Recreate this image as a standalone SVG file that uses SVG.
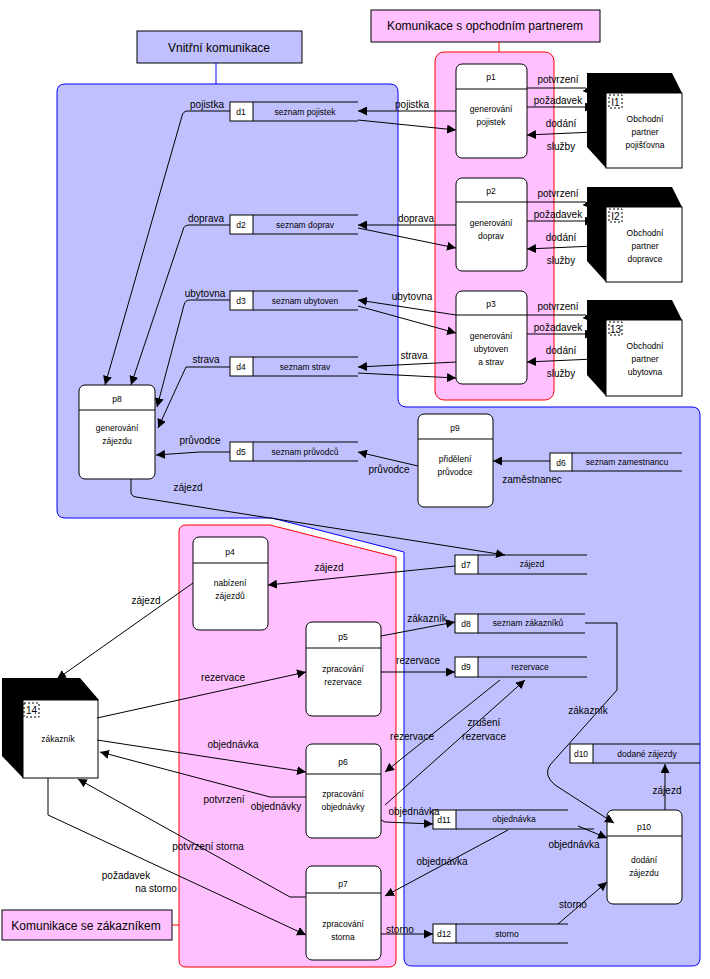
<svg xmlns="http://www.w3.org/2000/svg" width="710" height="979" viewBox="0 0 710 979">
<style>
text{font-family:"Liberation Sans",Arial,sans-serif;fill:#000}
.n{font-size:8.5px;text-anchor:middle}
.i{font-size:10px;text-anchor:middle}
.l{font-size:10px;text-anchor:middle}
.t{font-size:12px;text-anchor:middle}
.p{fill:#fff;stroke:#000;stroke-width:1}
.c path,.c line,.c polyline{fill:none;stroke:#000;stroke-width:1}
.s line{stroke:#000}
</style>
<defs>
<marker id="a" viewBox="0 0 10 10" refX="10" refY="5" markerWidth="9" markerHeight="9" orient="auto" markerUnits="userSpaceOnUse"><path d="M0,0L10,5L0,10z" fill="#000"/></marker>
</defs>
<rect width="710" height="979" fill="#fff"/>
<g id="regions">
<path d="M65,84H390Q398,84 398,92V398Q398,407 407,407H692Q700,407 700,415V958Q700,966 692,966H412Q404,966 404,958V552L272,518H65Q57,518 57,510V92Q57,84 65,84Z" fill="#c0c0ff" stroke="#0000ff"/>
<rect x="435" y="52" width="119" height="348" rx="9" fill="#ffc0ff" stroke="#ff0000"/>
<path d="M186,525H270L396,557V960Q396,967 389,967H186Q179,967 179,960V532Q179,525 186,525Z" fill="#ffc0ff" stroke="#ff0000"/>
</g>
<g id="labels">
<rect x="137" y="31" width="165" height="32" fill="#c0c0ff" stroke="#000"/>
<text class="t" x="219" y="52">Vnitřní komunikace</text>
<line x1="216" y1="63" x2="216" y2="84" stroke="#0000ff"/>
<rect x="371" y="10" width="229" height="32" fill="#ffc0ff" stroke="#000"/>
<text class="t" x="485" y="30">Komunikace s opchodním partnerem</text>
<line x1="499" y1="42" x2="499" y2="52" stroke="#ff0000"/>
<rect x="2" y="910" width="170" height="30" fill="#ffc0ff" stroke="#000"/>
<text class="t" x="86" y="930">Komunikace se zákazníkem</text>
<line x1="172" y1="925" x2="179" y2="925" stroke="#ff0000"/>
</g>
<g id="processes">
<g id="p1"><rect class="p" x="456" y="64" width="71" height="94" rx="6"/><line x1="456" y1="89" x2="527" y2="89" stroke="#000"/><text class="n" x="491" y="80">p1</text><text class="n" x="491" y="112">generování</text><text class="n" x="491" y="125">pojistek</text></g>
<g id="p2"><rect class="p" x="456" y="178" width="71" height="93" rx="6"/><line x1="456" y1="202" x2="527" y2="202" stroke="#000"/><text class="n" x="491" y="194">p2</text><text class="n" x="491" y="226">generování</text><text class="n" x="491" y="239">doprav</text></g>
<g id="p3"><rect class="p" x="456" y="291" width="71" height="93" rx="6"/><line x1="456" y1="315" x2="527" y2="315" stroke="#000"/><text class="n" x="491" y="307">p3</text><text class="n" x="491" y="339">generování</text><text class="n" x="491" y="352">ubytoven</text><text class="n" x="491" y="365">a strav</text></g>
<g id="p8"><rect class="p" x="79" y="385" width="76" height="94" rx="6"/><line x1="79" y1="410" x2="155" y2="410" stroke="#000"/><text class="n" x="117" y="402">p8</text><text class="n" x="117" y="431">generování</text><text class="n" x="117" y="444">zájezdu</text></g>
<g id="p9"><rect class="p" x="418" y="414" width="75" height="93" rx="6"/><line x1="418" y1="439" x2="493" y2="439" stroke="#000"/><text class="n" x="455" y="431">p9</text><text class="n" x="455" y="462">přidělení</text><text class="n" x="455" y="475">průvodce</text></g>
<g id="p4"><rect class="p" x="193" y="537" width="75" height="93" rx="6"/><line x1="193" y1="563" x2="268" y2="563" stroke="#000"/><text class="n" x="230" y="555">p4</text><text class="n" x="230" y="586">nabízení</text><text class="n" x="230" y="599">zájezdů</text></g>
<g id="p5"><rect class="p" x="306" y="622" width="75" height="94" rx="6"/><line x1="306" y1="648" x2="381" y2="648" stroke="#000"/><text class="n" x="343" y="640">p5</text><text class="n" x="343" y="672">zpracování</text><text class="n" x="343" y="685">rezervace</text></g>
<g id="p6"><rect class="p" x="306" y="744" width="75" height="94" rx="6"/><line x1="306" y1="774" x2="381" y2="774" stroke="#000"/><text class="n" x="343" y="765">p6</text><text class="n" x="343" y="797">zpracování</text><text class="n" x="343" y="810">objednávky</text></g>
<g id="p7"><rect class="p" x="306" y="866" width="75" height="94" rx="6"/><line x1="306" y1="893" x2="381" y2="893" stroke="#000"/><text class="n" x="343" y="887">p7</text><text class="n" x="343" y="927">zpracování</text><text class="n" x="343" y="940">storna</text></g>
<g id="p10"><rect class="p" x="607" y="810" width="75" height="94" rx="6"/><line x1="607" y1="836" x2="682" y2="836" stroke="#000"/><text class="n" x="644" y="830">p10</text><text class="n" x="644" y="863">dodání</text><text class="n" x="644" y="876">zájezdu</text></g>
</g>
<g id="stores" class="s">
<g id="d1"><rect x="230" y="102" width="23" height="19" fill="#fff" stroke="#000"/><line x1="253" y1="102" x2="358" y2="102"/><line x1="253" y1="121" x2="358" y2="121"/><text class="n" x="241" y="115">d1</text><text class="n" x="305" y="115">seznam pojistek</text></g>
<g id="d2"><rect x="230" y="215" width="23" height="19" fill="#fff" stroke="#000"/><line x1="253" y1="215" x2="358" y2="215"/><line x1="253" y1="234" x2="358" y2="234"/><text class="n" x="241" y="228">d2</text><text class="n" x="305" y="228">seznam doprav</text></g>
<g id="d3"><rect x="230" y="291" width="23" height="19" fill="#fff" stroke="#000"/><line x1="253" y1="291" x2="358" y2="291"/><line x1="253" y1="310" x2="358" y2="310"/><text class="n" x="241" y="304">d3</text><text class="n" x="305" y="304">seznam ubytoven</text></g>
<g id="d4"><rect x="230" y="357" width="23" height="19" fill="#fff" stroke="#000"/><line x1="253" y1="357" x2="358" y2="357"/><line x1="253" y1="376" x2="358" y2="376"/><text class="n" x="241" y="370">d4</text><text class="n" x="305" y="370">seznam strav</text></g>
<g id="d5"><rect x="230" y="442" width="23" height="19" fill="#fff" stroke="#000"/><line x1="253" y1="442" x2="358" y2="442"/><line x1="253" y1="461" x2="358" y2="461"/><text class="n" x="241" y="455">d5</text><text class="n" x="305" y="455">seznam průvodců</text></g>
<g id="d6"><rect x="550" y="453" width="22" height="18" fill="#fff" stroke="#000"/><line x1="572" y1="453" x2="682" y2="453"/><line x1="572" y1="471" x2="682" y2="471"/><text class="n" x="561" y="466">d6</text><text class="n" x="627" y="465">seznam zamestnancu</text></g>
<g id="d7"><rect x="455" y="555" width="23" height="19" fill="#fff" stroke="#000"/><line x1="478" y1="555" x2="587" y2="555"/><line x1="478" y1="574" x2="587" y2="574"/><text class="n" x="466" y="568">d7</text><text class="n" x="532" y="567">zájezd</text></g>
<g id="d8"><rect x="455" y="614" width="23" height="19" fill="#fff" stroke="#000"/><line x1="478" y1="614" x2="585" y2="614"/><line x1="478" y1="633" x2="585" y2="633"/><text class="n" x="466" y="627">d8</text><text class="n" x="528" y="626">seznam zákazníků</text></g>
<g id="d9"><rect x="455" y="657" width="23" height="20" fill="#fff" stroke="#000"/><line x1="478" y1="657" x2="587" y2="657"/><line x1="478" y1="677" x2="587" y2="677"/><text class="n" x="466" y="670">d9</text><text class="n" x="530" y="670">rezervace</text></g>
<g id="d10"><rect x="570" y="744" width="23" height="19" fill="#fff" stroke="#000"/><line x1="593" y1="744" x2="700" y2="744"/><line x1="593" y1="763" x2="700" y2="763"/><text class="n" x="581" y="757">d10</text><text class="n" x="647" y="757">dodané zájezdy</text></g>
<g id="d11"><rect x="433" y="810" width="23" height="19" fill="#fff" stroke="#000"/><line x1="456" y1="810" x2="568" y2="810"/><line x1="456" y1="829" x2="594" y2="829"/><text class="n" x="444" y="823">d11</text><text class="n" x="514" y="822">objednávka</text></g>
<g id="d12"><rect x="433" y="924" width="23" height="19" fill="#fff" stroke="#000"/><line x1="456" y1="924" x2="568" y2="924"/><line x1="456" y1="943" x2="568" y2="943"/><text class="n" x="444" y="937">d12</text><text class="n" x="507" y="937">storno</text></g>
</g>
<g id="externals">
<g id="I1"><polygon points="587,73 672,73 682,93 606,93 606,168 587,147" fill="#000"/><rect x="606" y="93" width="76" height="75" fill="#fff" stroke="#000"/><rect x="609" y="95" width="13" height="13" fill="none" stroke="#000" stroke-dasharray="2,2"/><text class="i" x="615.5" y="106">I1</text><text class="n" x="645" y="122">Obchodní</text><text class="n" x="645" y="135">partner</text><text class="n" x="645" y="148">pojišťovna</text></g>
<g id="I2"><polygon points="587,187 672,187 682,207 606,207 606,282 587,261" fill="#000"/><rect x="606" y="207" width="76" height="75" fill="#fff" stroke="#000"/><rect x="609" y="209" width="13" height="13" fill="none" stroke="#000" stroke-dasharray="2,2"/><text class="i" x="615.5" y="220">I2</text><text class="n" x="645" y="236">Obchodní</text><text class="n" x="645" y="249">partner</text><text class="n" x="645" y="262">dopravce</text></g>
<g id="I3"><polygon points="587,300 672,300 682,320 606,320 606,396 587,375" fill="#000"/><rect x="606" y="320" width="76" height="76" fill="#fff" stroke="#000"/><rect x="609" y="322" width="13" height="13" fill="none" stroke="#000" stroke-dasharray="2,2"/><text class="i" x="615.5" y="333">13</text><text class="n" x="645" y="349">Obchodní</text><text class="n" x="645" y="362">partner</text><text class="n" x="645" y="375">ubytovna</text></g>
<g id="I4"><polygon points="2,678 80,678 99,700 23,700 23,778 2,756" fill="#000"/><rect x="23" y="700" width="75" height="78" fill="#fff" stroke="#000"/><rect x="24" y="703" width="15" height="14" fill="none" stroke="#000" stroke-dasharray="2,2"/><text class="i" x="31.5" y="714">14</text><text class="n" x="58" y="742">zákazník</text></g>
</g>
<g id="connectors" class="c">
<line x1="456" y1="111" x2="358" y2="111" marker-end="url(#a)"/>
<line x1="358" y1="120" x2="456" y2="130" marker-end="url(#a)"/>
<line x1="456" y1="225" x2="358" y2="225" marker-end="url(#a)"/>
<line x1="358" y1="228" x2="456" y2="248" marker-end="url(#a)"/>
<line x1="456" y1="315" x2="358" y2="300" marker-end="url(#a)"/>
<line x1="358" y1="306" x2="456" y2="333" marker-end="url(#a)"/>
<line x1="456" y1="362" x2="358" y2="367" marker-end="url(#a)"/>
<line x1="358" y1="373" x2="456" y2="378" marker-end="url(#a)"/>
<polyline points="527,88 586,88 592,95" marker-end="url(#a)"/>
<line x1="527" y1="107" x2="594" y2="107" marker-end="url(#a)"/>
<line x1="594" y1="132" x2="527" y2="135" marker-end="url(#a)"/>
<polyline points="527,202 586,202 592,209" marker-end="url(#a)"/>
<line x1="527" y1="221" x2="594" y2="221" marker-end="url(#a)"/>
<line x1="594" y1="246" x2="527" y2="249" marker-end="url(#a)"/>
<polyline points="527,315 586,315 592,322" marker-end="url(#a)"/>
<line x1="527" y1="334" x2="594" y2="334" marker-end="url(#a)"/>
<line x1="594" y1="359" x2="527" y2="362" marker-end="url(#a)"/>
<path d="M230,111H188Q183,111 182,116L105,385" marker-end="url(#a)"/>
<path d="M230,225H189Q184,225 183,230L131,385" marker-end="url(#a)"/>
<path d="M230,300H190Q185,300 184,305L157,407" marker-end="url(#a)"/>
<path d="M230,367H186L158,428" marker-end="url(#a)"/>
<path d="M230,452H200L156,455" marker-end="url(#a)"/>
<line x1="418" y1="466" x2="358" y2="452" marker-end="url(#a)"/>
<line x1="550" y1="461" x2="493" y2="461" marker-end="url(#a)"/>
<path d="M131,479V492Q131,496 136,497L505,555" marker-end="url(#a)"/>
<line x1="455" y1="566" x2="268" y2="585" marker-end="url(#a)"/>
<line x1="193" y1="583" x2="57" y2="679" marker-end="url(#a)"/>
<line x1="97" y1="718" x2="306" y2="672" marker-end="url(#a)"/>
<line x1="381" y1="636" x2="455" y2="622" marker-end="url(#a)"/>
<line x1="381" y1="672" x2="455" y2="672" marker-end="url(#a)"/>
<path d="M585,623H617V690L550,765Q543,775 555,785L614,823" marker-end="url(#a)"/>
<line x1="500" y1="680" x2="385" y2="772" marker-end="url(#a)"/>
<line x1="385" y1="805" x2="525" y2="680" marker-end="url(#a)"/>
<line x1="97" y1="740" x2="306" y2="772" marker-end="url(#a)"/>
<polyline points="306,797 270,797 100,752" marker-end="url(#a)"/>
<polyline points="381,820 385,822 433,824" marker-end="url(#a)"/>
<polyline points="578,826 607,838" marker-end="url(#a)"/>
<line x1="508" y1="830" x2="385" y2="896" marker-end="url(#a)"/>
<polyline points="306,897 290,897 78,779" marker-end="url(#a)"/>
<polyline points="48,778 48,815 306,935" marker-end="url(#a)"/>
<line x1="381" y1="934" x2="433" y2="934" marker-end="url(#a)"/>
<line x1="558" y1="924" x2="607" y2="882" marker-end="url(#a)"/>
<line x1="665" y1="810" x2="665" y2="764" marker-end="url(#a)"/>
</g>
<g id="flowlabels">
<text class="l" x="412" y="108">pojistka</text>
<text class="l" x="416" y="222">doprava</text>
<text class="l" x="412" y="300">ubytovna</text>
<text class="l" x="414" y="359">strava</text>
<text class="l" x="207" y="108">pojistka</text>
<text class="l" x="206" y="222">doprava</text>
<text class="l" x="205" y="297">ubytovna</text>
<text class="l" x="206" y="363">strava</text>
<text class="l" x="200" y="444">průvodce</text>
<text class="l" x="389" y="473">průvodce</text>
<text class="l" x="532" y="483">zaměstnanec</text>
<text class="l" x="188" y="491">zájezd</text>
<text class="l" x="329" y="571">zájezd</text>
<text class="l" x="146" y="604">zájezd</text>
<text class="l" x="223" y="681">rezervace</text>
<text class="l" x="427" y="622">zákazník</text>
<text class="l" x="418" y="664">rezervace</text>
<text class="l" x="588" y="714">zákazník</text>
<text class="l" x="412" y="740">rezervace</text>
<text class="l" x="484" y="726">zrušení</text>
<text class="l" x="484" y="740">rezervace</text>
<text class="l" x="233" y="748">objednávka</text>
<text class="l" x="224" y="803">potvrzení</text>
<text class="l" x="276" y="810">objednávky</text>
<text class="l" x="414" y="815">objednávka</text>
<text class="l" x="574" y="848">objednávka</text>
<text class="l" x="442" y="865">objednávka</text>
<text class="l" x="208" y="850">potvrzení storna</text>
<text class="l" x="126" y="879">požadavek</text>
<text class="l" x="156" y="892">na storno</text>
<text class="l" x="400" y="933">storno</text>
<text class="l" x="573" y="908">storno</text>
<text class="l" x="667" y="794">zájezd</text>
<text class="l" x="558" y="83">potvrzení</text>
<text class="l" x="558" y="104">požadavek</text>
<text class="l" x="561" y="127">dodání</text>
<text class="l" x="561" y="150">služby</text>
<text class="l" x="558" y="197">potvrzení</text>
<text class="l" x="558" y="218">požadavek</text>
<text class="l" x="561" y="241">dodání</text>
<text class="l" x="561" y="264">služby</text>
<text class="l" x="558" y="310">potvrzení</text>
<text class="l" x="558" y="331">požadavek</text>
<text class="l" x="561" y="354">dodání</text>
<text class="l" x="561" y="377">služby</text>
</g>
</svg>
